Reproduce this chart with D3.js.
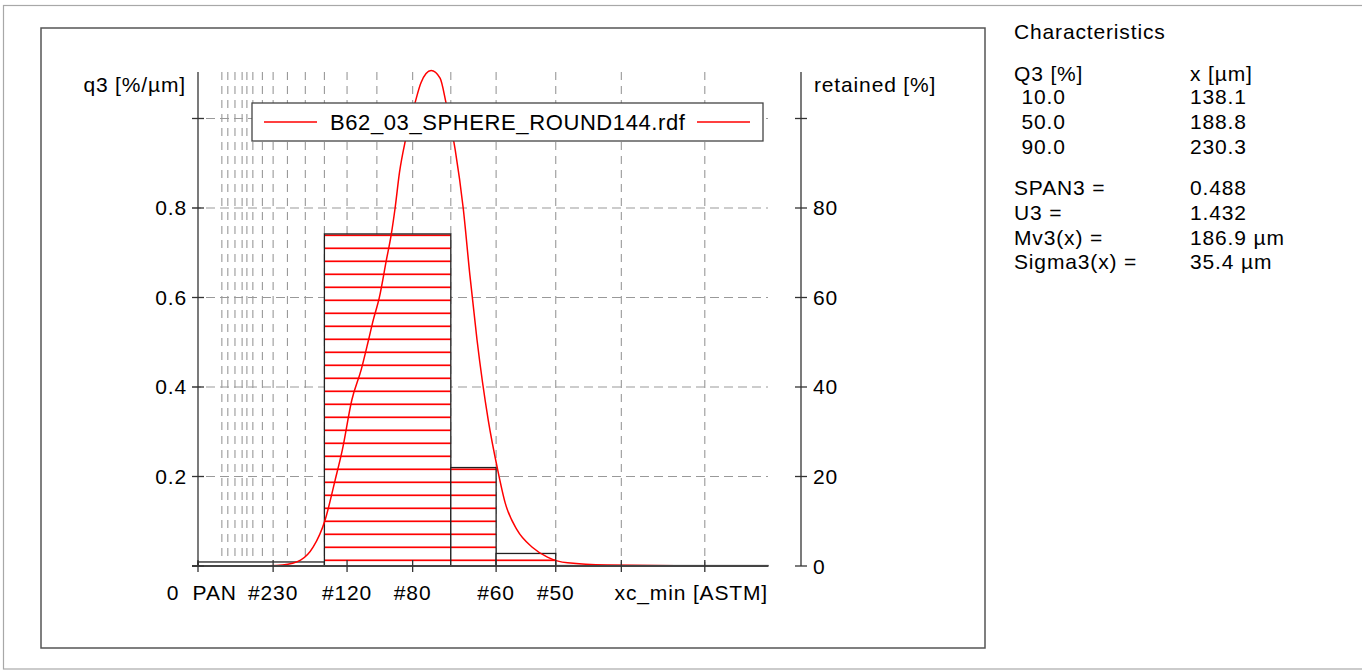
<!DOCTYPE html>
<html><head><meta charset="utf-8">
<script src="https://cdn.jsdelivr.net/npm/d3@7"></script>
<style>
html,body{margin:0;padding:0;background:#fff;}
svg text{font-family:"Liberation Sans",Arial,sans-serif;fill:#000;}
</style></head>
<body><svg id="c" width="1362" height="671"></svg>
<script>
// ---- data ----
const binEdges = [0, 106, 212, 250, 300, 478];          // µm
const retained = [0.9, 74.2, 22.0, 2.8, 0.1];           // %
const curveX = [0, 40, 60, 71, 86, 96.5, 106.6, 115, 121, 129, 137, 143, 147, 152, 158, 162, 165.3, 169, 174, 182, 187, 195.5, 203, 208, 215.7, 222.4, 228, 234, 243.4, 251, 257.6, 267.7, 280.3, 293, 310, 343, 400, 478];
const curveY = [0, 0, 0.0005, 0.002, 0.013, 0.042, 0.103, 0.192, 0.259, 0.371, 0.44, 0.505, 0.55, 0.599, 0.684, 0.74, 0.80, 0.88, 0.952, 1.035, 1.08, 1.107, 1.09, 1.035, 0.93, 0.80, 0.65, 0.505, 0.326, 0.219, 0.141, 0.08, 0.042, 0.02, 0.007, 0.002, 0.0007, 0.0002];
const sieveSizes = [20, 25, 31, 37, 41, 46, 54, 63, 75, 90, 106, 125, 150, 180, 212, 250, 300, 355, 425];
const xTickVals = [0, 63, 125, 180, 250, 300, 355, 425];
const xTickLabels = [{t:"0", v:-21}, {t:"PAN", v:14}, {t:"#230", v:63}, {t:"#120", v:125}, {t:"#80", v:180}, {t:"#60", v:250}, {t:"#50", v:300}];
const xTitle = "xc_min [ASTM]";
const yLeftTicks = [0, 0.2, 0.4, 0.6, 0.8, 1.0];
const yLeftLabels = ["", "0.2", "0.4", "0.6", "0.8", ""];
const yRightTicks = [0, 20, 40, 60, 80, 100];
const yRightLabels = ["0", "20", "40", "60", "80", ""];
const legendName = "B62_03_SPHERE_ROUND144.rdf";
const charTitle = "Characteristics";
const charHead = ["Q3 [%]", "x [µm]"];
const charQ = ["10.0", "50.0", "90.0"];
const charX = ["138.1", "188.8", "230.3"];
const paramNames = ["SPAN3 =", "U3 =", "Mv3(x) =", "Sigma3(x) ="];
const paramVals = ["0.488", "1.432", "186.9 µm", "35.4 µm"];

// ---- layout ----
const svg = d3.select("#c");
const FS = 21;
const LS = "0.85px";
const x = d3.scaleLinear().domain([0, 478]).range([198, 768]);
const y = d3.scaleLinear().domain([0, 1.1039]).range([566, 72]);
const yR = d3.scaleLinear().domain([0, 110.39]).range([566, 72]);

svg.append("rect").attr("x",0).attr("y",0).attr("width",1362).attr("height",671).attr("fill","#fff");
svg.append("rect").attr("x",3.5).attr("y",5.5).attr("width",1400).attr("height",663.5)
  .attr("fill","none").attr("stroke","#a8a8a8").attr("stroke-width",1.2);
svg.append("rect").attr("x",41).attr("y",28).attr("width",944).attr("height",620)
  .attr("fill","none").attr("stroke","#555").attr("stroke-width",1.5);

const defs = svg.append("defs");
const pat = defs.append("pattern").attr("id","hatch").attr("patternUnits","userSpaceOnUse")
  .attr("x",0).attr("y",0).attr("width",20).attr("height",13);
pat.append("rect").attr("width",20).attr("height",13).attr("fill","#fff");
pat.append("line").attr("x1",0).attr("x2",20).attr("y1",1.3).attr("y2",1.3)
  .attr("stroke","#ff0000").attr("stroke-width",1.7);

const g = svg.append("g");
// grid
g.selectAll(".vg").data(sieveSizes).join("line")
  .attr("x1",d=>x(d)).attr("x2",d=>x(d)).attr("y1",y(1.1039)).attr("y2",566)
  .attr("stroke","#999").attr("stroke-width",1.1).attr("stroke-dasharray","8,6");
g.selectAll(".hg").data(yLeftTicks.slice(1)).join("line")
  .attr("x1",192).attr("x2",768).attr("y1",d=>y(d)).attr("y2",d=>y(d))
  .attr("stroke","#999").attr("stroke-width",1.1).attr("stroke-dasharray","9,5");

// bars
const bars = retained.map((r,i)=>({x0:binEdges[i], x1:binEdges[i+1], v:r}));
g.selectAll(".bar").data(bars).join("rect")
  .attr("x",d=>x(d.x0)).attr("width",d=>x(d.x1)-x(d.x0))
  .attr("y",d=>yR(d.v)).attr("height",d=>566-yR(d.v))
  .attr("fill","url(#hatch)").attr("stroke","#222").attr("stroke-width",1.3);

// curve
const pts = curveX.map((v,i)=>[v, curveY[i]]);
g.append("path").datum(pts)
  .attr("d", d3.line().x(d=>x(d[0])).y(d=>y(d[1])).curve(d3.curveMonotoneX))
  .attr("fill","none").attr("stroke","#ff0000").attr("stroke-width",1.5);

// axes
const ax = svg.append("g").attr("stroke","#333").attr("stroke-width",1.3);
ax.append("line").attr("x1",198).attr("x2",198).attr("y1",72).attr("y2",566);
ax.append("line").attr("x1",192).attr("x2",768).attr("y1",566).attr("y2",566).attr("stroke","#444").attr("stroke-width",1.8);
ax.append("line").attr("x1",801).attr("x2",801).attr("y1",72).attr("y2",566);
ax.selectAll(".lt").data(yLeftTicks).join("line")
  .attr("x1",192).attr("x2",204).attr("y1",d=>y(d)).attr("y2",d=>y(d));
ax.selectAll(".rt").data(yRightTicks).join("line")
  .attr("x1",795).attr("x2",807).attr("y1",d=>yR(d)).attr("y2",d=>yR(d));
ax.selectAll(".xt").data(xTickVals).join("line")
  .attr("x1",d=>x(d)).attr("x2",d=>x(d)).attr("y1",560).attr("y2",572);

const txt = svg.append("g").style("font-size",FS+"px").style("letter-spacing",LS);
txt.selectAll(".yl").data(yLeftTicks).join("text")
  .attr("x",187).attr("y",d=>y(d)+7.5).attr("text-anchor","end")
  .text((d,i)=>yLeftLabels[i]);
txt.selectAll(".yr").data(yRightTicks).join("text")
  .attr("x",813).attr("y",d=>yR(d)+7.5)
  .text((d,i)=>yRightLabels[i]);
txt.selectAll(".xl").data(xTickLabels).join("text")
  .attr("x",d=>x(d.v)).attr("y",599.5).attr("text-anchor","middle").text(d=>d.t);
txt.append("text").attr("x",768).attr("y",599.5).attr("text-anchor","end").text(xTitle);
txt.append("text").attr("x",186).attr("y",91.5).attr("text-anchor","end").text("q3 [%/µm]");
txt.append("text").attr("x",814).attr("y",92).text("retained [%]");

// legend
const lg = svg.append("g");
lg.append("rect").attr("x",252).attr("y",103).attr("width",511).attr("height",38)
  .attr("fill","#fff").attr("stroke","#444").attr("stroke-width",1.3);
[[264,317],[697,750]].forEach(p=>{
  lg.append("line").attr("x1",p[0]).attr("x2",p[1]).attr("y1",122).attr("y2",122)
    .attr("stroke","#ff0000").attr("stroke-width",1.3);
});
lg.append("text").attr("x",330).attr("y",129.5).style("font-size","22px").style("letter-spacing","0.6px").text(legendName);

// characteristics
const ch = svg.append("g").style("font-size",FS+"px").style("letter-spacing",LS);
ch.append("text").attr("x",1014).attr("y",38.5).text(charTitle);
ch.append("text").attr("x",1014).attr("y",80.5).text(charHead[0]);
ch.append("text").attr("x",1190).attr("y",80.5).text(charHead[1]);
charQ.forEach((q,i)=>{
  ch.append("text").attr("x",1021.5).attr("y",104.3+25*i).text(q);
  ch.append("text").attr("x",1190).attr("y",104.3+25*i).text(charX[i]);
});
paramNames.forEach((n,i)=>{
  ch.append("text").attr("x",1014).attr("y",195+24.8*i).text(n);
  ch.append("text").attr("x",1190).attr("y",195+24.8*i).text(paramVals[i]);
});
</script></body></html>
